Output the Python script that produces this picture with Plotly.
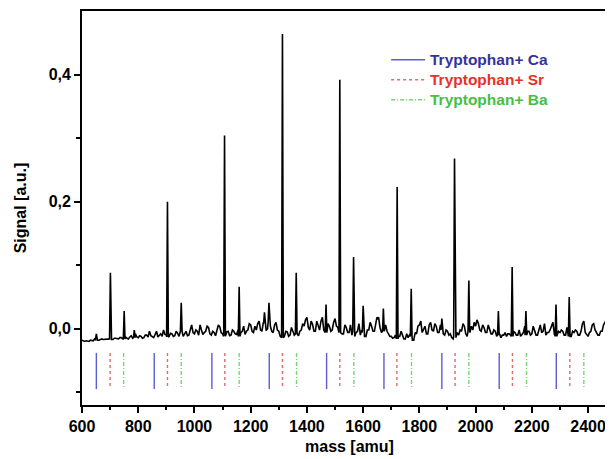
import plotly.graph_objects as go

# ---------------- data ----------------
# baseline of the spectrum, sampled every 5 amu (600 ... 2495), one row per 100 amu
grid_start = 600
grid_step = 5
baseline_rows = [
    [-0.018, -0.019, -0.020, -0.019, -0.019, -0.020, -0.018, -0.019, -0.019, -0.016, -0.017, -0.018, -0.018, -0.017, -0.016, -0.017, -0.017, -0.016, -0.016, -0.017],  # 600
    [-0.016, -0.017, -0.017, -0.015, -0.015, -0.016, -0.016, -0.014, -0.014, -0.016, -0.016, -0.013, -0.015, -0.016, -0.013, -0.011, -0.015, -0.014, -0.008, -0.013],  # 700
    [-0.014, -0.011, -0.012, -0.015, -0.014, -0.010, -0.010, -0.013, -0.004, -0.011, -0.012, -0.014, -0.009, -0.004, -0.013, -0.010, -0.008, -0.012, -0.002, -0.009],  # 800
    [-0.010, -0.013, -0.012, -0.007, -0.008, -0.012, -0.011, -0.004, -0.007, -0.012, -0.010, -0.004, -0.012, -0.008, -0.004, -0.011, -0.010, -0.002, 0.006, -0.006],    # 900
    [-0.008, -0.002, -0.004, -0.010, 0.006, -0.002, -0.009, -0.006, -0.004, 0.004, 0.002, -0.008, -0.010, -0.004, -0.006, -0.011, -0.002, 0.006, 0.003, -0.006],       # 1000
    [-0.008, -0.012, -0.012, -0.005, -0.004, -0.011, -0.010, -0.002, -0.004, -0.008, -0.009, -0.002, -0.012, -0.006, -0.004, 0.004, -0.009, -0.004, -0.002, 0.008],    # 1100
    [0.006, -0.004, -0.006, 0.004, -0.002, 0.008, 0.012, -0.002, -0.004, 0.010, 0.008, -0.003, 0.000, 0.010, 0.004, -0.004, -0.006, 0.006, 0.010, -0.002],            # 1200
    [-0.004, -0.012, -0.010, -0.014, -0.012, -0.004, -0.005, -0.012, -0.010, 0.002, -0.004, -0.010, -0.008, 0.000, -0.011, -0.004, -0.002, 0.008, 0.004, 0.014],     # 1300
    [0.018, 0.002, -0.002, 0.012, 0.007, -0.004, -0.004, 0.012, 0.005, -0.002, 0.012, 0.018, -0.002, -0.006, -0.006, 0.008, 0.004, -0.004, -0.002, 0.010],            # 1400
    [0.016, 0.004, 0.002, -0.006, -0.012, -0.008, -0.008, 0.006, 0.002, -0.006, -0.006, 0.006, -0.010, -0.004, -0.012, -0.006, -0.004, 0.008, -0.010, -0.002],        # 1500
    [-0.006, -0.012, -0.012, -0.002, -0.002, 0.010, 0.004, -0.004, -0.004, 0.012, 0.018, 0.004, 0.002, -0.006, -0.004, 0.010, 0.006, -0.004, -0.008, -0.012],         # 1600
    [-0.012, -0.015, -0.014, -0.010, -0.016, -0.012, -0.012, -0.004, -0.010, -0.016, -0.016, -0.008, -0.014, -0.010, -0.012, -0.018, -0.018, -0.006, -0.008, 0.004],  # 1700
    [0.006, 0.012, -0.006, -0.002, 0.004, -0.008, -0.008, 0.006, 0.010, -0.002, -0.004, 0.008, 0.004, -0.006, -0.006, 0.006, -0.002, -0.008, -0.010, -0.002],         # 1800
    [-0.004, -0.010, -0.008, -0.014, -0.016, -0.012, -0.014, -0.006, -0.010, -0.002, -0.004, 0.008, 0.004, -0.008, -0.012, -0.004, -0.006, 0.004, -0.002, 0.010],     # 1900
    [0.004, 0.014, 0.008, -0.002, -0.004, 0.006, 0.002, -0.006, -0.006, 0.006, 0.000, -0.008, -0.008, -0.002, -0.004, -0.012, -0.010, -0.008, -0.014, -0.010],        # 2000
    [-0.010, -0.006, -0.012, -0.008, -0.008, -0.012, -0.012, -0.004, -0.006, -0.010, -0.010, -0.002, -0.012, -0.008, -0.006, 0.004, -0.010, -0.004, -0.004, -0.010],  # 2100
    [-0.008, 0.004, -0.002, -0.010, -0.010, -0.002, 0.006, -0.006, -0.004, 0.008, -0.010, -0.006, -0.006, -0.002, 0.004, 0.010, -0.008, -0.012, -0.010, -0.004],     # 2200
    [-0.006, -0.002, -0.004, -0.010, -0.010, 0.002, -0.008, -0.012, -0.012, -0.004, -0.006, -0.002, -0.004, -0.010, -0.010, -0.004, 0.008, 0.012, -0.006, -0.010],    # 2300
    [-0.012, -0.006, -0.004, 0.006, 0.008, -0.002, -0.006, -0.010, -0.010, -0.004, -0.004, 0.006, 0.010, 0.014, -0.006, -0.010, -0.010, -0.002, -0.004, 0.006],       # 2400
]

# peaks of the spectrum (mass in amu, apex signal)
peak_mass = [651, 701, 750, 786, 904, 953, 1107, 1159, 1249, 1265, 1313, 1362,
             1468, 1517, 1566, 1600, 1652, 1672, 1721, 1771, 1880, 1925, 1976,
             2081, 2130, 2179, 2286, 2333]
peak_height = [-0.008, 0.088, 0.028, -0.002, 0.200, 0.041, 0.304, 0.066, 0.026, 0.041, 0.464, 0.088,
               0.038, 0.392, 0.113, 0.036, 0.016, 0.032, 0.223, 0.063, 0.016, 0.268, 0.076,
               0.028, 0.097, 0.028, 0.038, 0.050]

# expected cluster positions (amu)
ca_mass = [651, 857, 1062, 1266, 1470, 1674, 1880, 2084, 2287]
sr_mass = [700, 904, 1108, 1313, 1517, 1720, 1927, 2131, 2335]
ba_mass = [748, 953, 1159, 1363, 1567, 1772, 1976, 2181, 2385]

series_names = ["Tryptophan+ Ca", "Tryptophan+ Sr", "Tryptophan+ Ba"]

# ---------------- styling ----------------
FONT = "Liberation Sans, Arial, sans-serif"
MARK_TOP, MARK_BOTTOM = -0.038, -0.095
PEAK_HALF = 3  # half width of a peak foot, amu

baseline = [v for row in baseline_rows for v in row]
grid_mass = [grid_start + i * grid_step for i in range(len(baseline))]

pts = dict(zip(grid_mass, baseline))
for m, h in zip(peak_mass, peak_height):
    for g in [g for g in pts if abs(g - m) < PEAK_HALF and g not in peak_mass]:
        del pts[g]
    idx = min(range(len(grid_mass)), key=lambda i: abs(grid_mass[i] - m))
    foot = baseline[idx]
    pts[m - PEAK_HALF] = foot
    pts[m] = h
    pts[m + PEAK_HALF] = foot
xs = sorted(pts.keys())
ys = [pts[x] for x in xs]

fig = go.Figure()
fig.add_trace(go.Scatter(x=xs, y=ys, mode="lines", line=dict(color="black", width=1.6),
                         showlegend=False, hoverinfo="skip"))


def seg(masses):
    sx, sy = [], []
    for m in masses:
        sx += [m, m, None]
        sy += [MARK_TOP, MARK_BOTTOM, None]
    return sx, sy


marker_styles = [
    (ca_mass, "#5c5cd2", "solid", "#33339c"),
    (sr_mass, "#e26a6a", "3px,3px", "#e8302a"),
    (ba_mass, "#72d872", "4px,2px,1px,2px", "#44bf44"),
]
for name, (masses, lc, dash, tc) in zip(series_names, marker_styles):
    sx, sy = seg(masses)
    fig.add_trace(go.Scatter(x=sx, y=sy, mode="lines", line=dict(color=lc, width=1.4, dash=dash),
                             name=name, showlegend=False, hoverinfo="skip"))

# the page body has an 8px margin, so the figure is placed 8px right/down in the window
BODY = 8
W, H = 613 - BODY, 459 - BODY
ml, mt, mb, mr = 81.7 - BODY, 10.7 - BODY, 54, 0
plot_w, plot_h = W - ml - mr, H - mt - mb
px_per_amu = 0.2813
x_end = 600 + plot_w / px_per_amu


def px(sx):
    return (sx - BODY - ml) / plot_w


def py(sy):
    return 1 - (sy - BODY - mt) / plot_h


# manual legend (swatch + coloured label)
shapes, annotations = [], []
legend_rows = [59.5, 79.5, 99.5]
for name, (masses, lc, dash, tc), ry in zip(series_names, marker_styles, legend_rows):
    shapes.append(dict(type="line", xref="paper", yref="paper", x0=px(391), x1=px(425),
                       y0=py(ry), y1=py(ry), line=dict(color=lc, width=1.3, dash=dash)))
    annotations.append(dict(text=f"<b>{name}</b>", xref="paper", yref="paper", x=px(427.5), y=py(ry),
                            xanchor="left", yanchor="middle", showarrow=False,
                            font=dict(family=FONT, size=15.5, color=tc)))

annotations += [
    dict(text="<b>Signal [a.u.]</b>", textangle=-90, xref="paper", yref="paper",
         x=px(20), y=0.5, xanchor="center", yanchor="middle",
         showarrow=False, font=dict(family=FONT, size=16, color="black")),
    dict(text="<b>mass [amu]</b>", xref="x", yref="paper", x=1550,
         y=py(446.5), xanchor="center", yanchor="middle",
         showarrow=False, font=dict(family=FONT, size=16, color="black")),
]

axis_common = dict(showgrid=False, zeroline=False, showline=True, linecolor="black", linewidth=1.7,
                   ticks="outside", tickcolor="black", tickwidth=1.5, ticklen=6,
                   tickfont=dict(family=FONT, size=16, color="black", weight="bold"),
                   automargin=False)

fig.update_layout(
    width=W, height=H,
    margin=dict(l=ml, r=mr, t=mt, b=mb, pad=0),
    paper_bgcolor="white", plot_bgcolor="white",
    separators=",.",
    showlegend=False,
    xaxis=dict(range=[600, x_end], tick0=600, dtick=200, tickformat="d", mirror=True,
               minor=dict(dtick=100, ticklen=3, ticks="outside", tickcolor="black", tickwidth=1.5),
               **axis_common),
    yaxis=dict(range=[-0.12, 0.5], tickvals=[0.0, 0.2, 0.4], tickformat=".1f",
               minor=dict(tickvals=[-0.1, 0.1, 0.3], ticklen=4, ticks="outside", tickcolor="black",
                          tickwidth=1.5),
               **axis_common),
    shapes=shapes,
    annotations=annotations,
)

fig.write_html("out.html")
